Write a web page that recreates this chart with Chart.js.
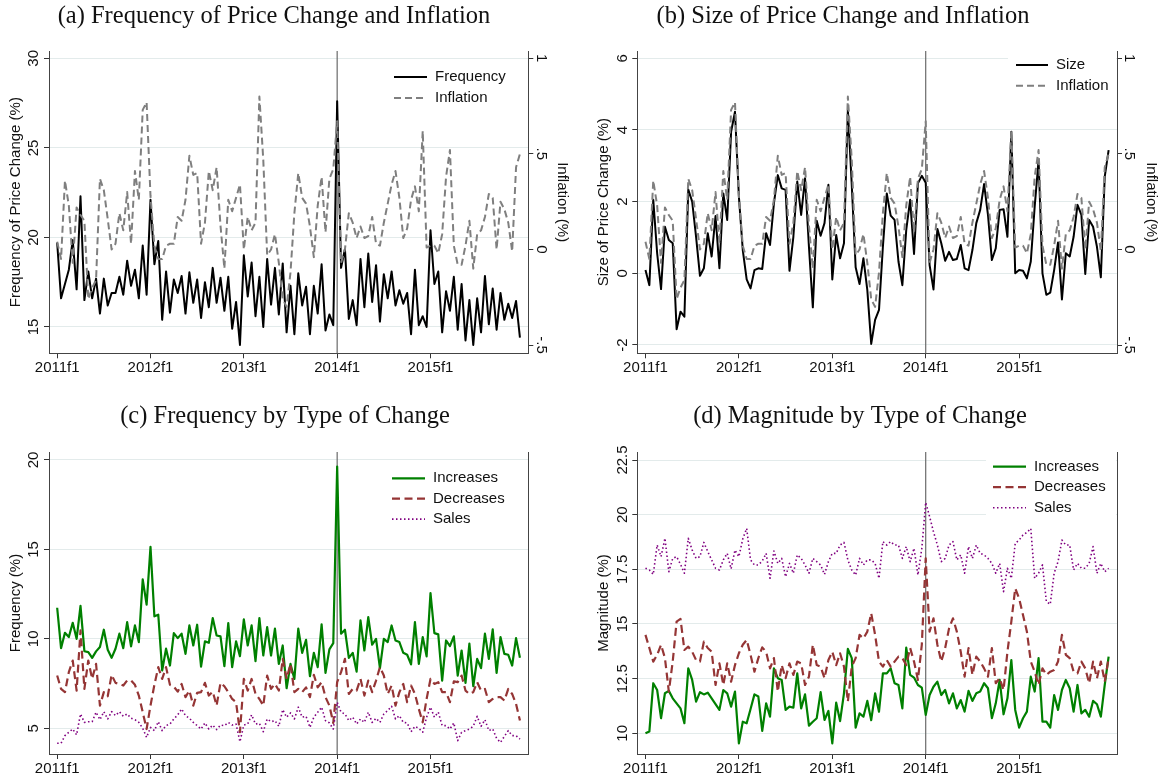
<!DOCTYPE html>
<html><head><meta charset="utf-8">
<script src="https://cdn.jsdelivr.net/npm/chart.js@4.4.1/dist/chart.umd.min.js"></script>
<style>
html,body{margin:0;padding:0;background:#fff;}
#wrap{position:relative;width:1159px;height:782px;background:#fff;}
canvas{position:absolute;left:0;top:0;}
</style></head><body>
<div id="wrap">
<canvas id="ca" width="1159" height="782"></canvas>
<canvas id="cb" width="1159" height="782"></canvas>
<canvas id="cc" width="1159" height="782"></canvas>
<canvas id="cd" width="1159" height="782"></canvas>
</div>
<script>
// ---------- categories ----------
const years = [2011, 2012, 2013, 2014, 2015];
const periodsPerYear = 24;
const periods = years.flatMap(y => Array.from({length: periodsPerYear}, (_, k) => y + 'f' + (k + 1)));
const xTickPeriods = ['2011f1', '2012f1', '2013f1', '2014f1', '2015f1'];
const breakPeriod = '2014f1';

// ---------- series ----------
const frequency = [19.7,16.6,17.4,18.2,19.85,17.1,22.3,16.5,18.1,16.6,17.7,15.75,17.7,16.2,16.9,16.9,17.8,16.8,18.7,17.3,18.2,16.6,19.55,16.8,22.1,18.5,19.8,15.4,18.1,15.8,17.65,16.9,17.85,15.75,18.05,16.35,17.65,15.5,17.5,16.1,18.3,16.35,17.75,15.9,17.8,14.9,16.4,14.0,19.0,16.7,18.6,15.6,17.8,15.0,18.8,16.25,18.3,15.7,18.55,14.7,
  17.3,14.6,18.0,16.2,17.25,14.6,17.3,15.75,18.5,14.8,15.7,15.1,27.6,18.3,19.35,15.45,16.5,15.1,18.8,16.1,19.1,16.4,18.45,15.3,17.95,16.6,18.1,16.2,17.05,16.3,16.9,14.6,18.2,15.1,15.6,15.0,20.4,17.4,18.1,14.7,17.0,15.9,17.8,14.85,17.4,14.25,16.5,14.0,16.6,14.7,17.85,15.15,17.15,14.85,16.9,15.4,16.3,15.5,16.45,14.4];
const inflation = [0.04,-0.05,0.36,0.23,-0.07,0.22,0.18,0.15,-0.26,-0.2,-0.16,0.37,0.31,0.16,0.0,0.03,0.19,0.10,0.30,0.03,0.41,0.26,0.73,0.77,0.28,0.02,-0.05,-0.05,0.02,0.03,0.03,0.17,0.15,0.26,0.49,0.39,0.40,0.03,0.14,0.41,0.31,0.43,0.125,-0.1,0.26,0.2,0.27,0.34,0.0,0.17,0.10,0.14,0.80,0.47,-0.03,0.0,0.08,-0.07,-0.26,-0.3,
  -0.12,0.19,0.40,0.27,0.24,0.12,-0.04,0.23,0.38,0.09,0.37,0.42,0.67,-0.07,0.0,0.19,0.14,0.06,0.12,0.06,0.07,0.17,0.03,0.02,0.14,0.24,0.34,0.41,0.27,0.06,0.11,0.26,0.33,0.2,0.62,0.01,0.02,0.02,-0.02,0.08,0.38,0.52,0.02,-0.08,-0.08,0.02,0.15,-0.1,0.08,0.1,0.17,0.29,0.27,0.0,0.25,0.21,0.14,-0.01,0.43,0.5];
const sizeChange = [0.09,-0.33,2.05,0.56,-0.44,1.3,0.93,0.84,-1.56,-1.07,-1.21,2.34,2.0,1.02,-0.07,0.14,1.12,0.47,1.6,0.14,2.23,1.49,3.95,4.51,2.14,0.65,-0.17,-0.42,0.09,0.14,0.12,1.12,0.79,1.95,2.74,2.37,2.33,0.07,1.02,2.56,1.63,2.65,0.74,-0.95,1.47,1.05,1.4,2.47,-0.17,1.07,0.42,0.84,4.56,2.47,0.17,-0.3,0.42,-0.47,-1.97,-1.3,
  -1.02,0.74,2.23,1.61,1.49,0.33,-0.33,1.21,2.05,0.54,2.51,2.72,2.53,0.23,-0.45,1.24,0.84,0.35,0.6,0.37,0.4,0.79,0.14,0.09,0.65,1.4,1.77,2.49,1.63,0.37,0.7,1.77,1.79,1.02,3.95,0.0,0.09,0.07,-0.14,0.33,1.86,3.16,0.0,-0.6,-0.54,0.09,0.86,-0.73,0.56,0.47,1.02,1.91,1.63,-0.02,1.49,1.3,0.74,-0.11,2.7,3.44];
const incFreq = [11.74,9.48,10.34,10.1,10.9,10.0,11.84,9.31,9.26,8.94,9.3,9.54,10.51,9.39,8.94,9.45,10.29,9.48,10.94,9.58,10.75,9.82,13.33,11.91,15.14,11.26,11.35,8.23,9.45,8.51,10.32,10.04,10.29,9.16,10.75,9.63,10.79,8.45,9.86,9.78,11.16,10.19,10.14,8.47,10.88,8.42,9.86,9.03,11.09,9.63,10.75,8.75,11.16,9.07,10.66,9.07,10.57,8.6,9.63,7.24,
  8.6,7.76,10.57,9.22,9.95,7.91,9.22,8.42,10.81,8.1,9.41,9.76,19.63,10.29,10.51,8.94,9.22,8.17,11.03,9.35,11.22,9.67,10.0,8.36,10.0,9.82,10.75,9.91,9.82,9.22,9.11,8.57,10.94,8.6,10.1,9.02,12.56,10.32,10.25,7.67,9.91,9.6,10.14,7.95,9.35,7.54,9.73,7.35,8.88,8.36,10.29,8.88,10.53,8.1,10.1,9.16,9.11,8.51,10.04,8.94];
const decFreq = [7.95,7.2,7.02,8.14,8.79,7.11,10.47,7.2,8.79,7.76,8.6,6.27,7.02,6.79,7.99,7.54,7.48,7.39,7.67,7.67,7.43,6.83,5.9,4.96,6.27,7.43,8.42,7.76,8.42,7.43,7.33,7.05,7.48,6.74,7.11,6.27,6.98,7.02,7.54,6.83,7.05,6.27,7.54,7.35,7.02,6.64,6.46,4.78,7.76,7.11,7.76,6.92,6.64,6.27,7.95,7.2,7.48,7.11,8.88,7.76,
  8.6,7.02,7.2,7.02,7.29,6.74,7.99,7.29,7.58,6.74,6.27,5.3,7.58,8.14,8.88,6.92,7.2,7.11,7.76,6.83,7.67,7.02,7.67,8.42,7.95,6.92,7.39,6.27,7.02,7.48,6.46,7.39,6.92,6.08,5.33,6.64,7.76,7.48,7.58,7.02,7.02,6.46,7.62,7.58,7.95,7.11,6.92,7.02,7.58,7.11,7.2,6.46,6.64,6.74,6.74,6.55,7.2,6.92,6.36,5.43];
const salesFreq = [4.16,4.16,4.59,4.78,4.96,4.63,5.8,5.33,5.37,5.37,5.9,5.48,5.93,5.52,5.93,5.71,5.93,5.67,5.8,5.56,5.48,5.33,5.0,4.49,5.05,4.87,5.37,4.87,5.15,5.24,5.52,5.75,6.08,5.71,5.56,5.33,5.15,4.96,5.3,4.96,5.18,4.93,5.18,5.15,5.33,5.18,5.24,4.25,5.18,5.24,5.75,5.24,5.28,4.81,5.52,5.37,5.43,5.11,6.04,5.62,
  5.86,5.52,6.18,5.62,5.67,5.05,5.62,5.9,6.18,5.43,5.3,4.96,6.46,5.9,5.8,5.43,5.62,5.24,5.52,5.33,5.9,5.33,5.56,5.33,5.8,5.99,6.23,5.52,5.71,5.33,5.3,4.81,5.11,5.0,4.78,5.62,6.18,5.62,5.9,5.15,5.15,4.96,5.3,4.31,4.78,4.87,4.96,5.11,5.67,5.11,5.48,4.87,4.96,4.44,4.21,4.55,4.87,4.59,4.59,4.4];
const incMag = [10.0,10.08,12.29,11.98,10.69,11.83,11.94,11.6,11.37,11.14,10.46,12.97,12.44,11.45,11.88,11.78,11.86,11.6,11.33,11.07,11.98,11.83,11.22,11.91,9.54,10.53,10.46,11.11,11.78,11.68,10.11,11.37,10.76,12.97,12.52,12.44,11.07,11.22,11.17,12.74,11.14,11.78,10.35,10.53,10.69,11.88,10.61,11.02,9.54,11.4,10.56,11.83,13.86,13.44,10.26,10.91,10.76,11.48,10.6,11.83,
  10.99,12.74,12.74,12.97,12.29,12.21,11.14,13.92,12.67,12.55,12.21,12.09,10.84,11.75,12.13,12.36,11.75,11.98,11.37,11.83,11.14,11.52,10.99,11.94,11.48,11.83,11.91,12.29,12.06,10.69,11.37,12.44,10.87,11.6,13.35,11.07,10.26,10.69,10.99,12.59,11.91,13.44,10.53,10.53,10.26,11.75,11.07,11.98,12.44,12.06,10.99,12.21,10.91,11.07,10.76,11.48,11.33,10.76,12.21,13.51];
const decMag = [14.5,13.9,13.28,13.59,14.05,13.44,11.91,13.28,15.11,15.23,13.81,13.96,13.73,13.35,13.28,14.19,13.9,13.73,12.21,13.2,12.21,13.2,12.36,13.12,13.66,14.05,14.27,13.59,12.82,13.44,13.93,13.73,12.97,13.44,11.91,13.12,12.52,13.2,12.67,13.28,13.2,12.21,12.59,14.05,13.12,13.05,12.52,13.35,13.73,13.12,13.66,13.05,11.45,13.05,13.44,14.5,14.34,14.65,15.49,14.5,
  13.28,13.05,13.35,13.05,13.28,13.51,13.44,13.12,13.9,13.28,12.44,14.05,18.0,14.65,15.26,14.05,13.28,13.9,14.8,15.26,14.65,13.73,12.59,13.9,12.67,13.51,13.28,12.97,12.59,13.9,12.29,12.52,11.98,13.73,15.11,16.63,16.17,15.41,14.65,13.28,12.82,12.21,12.97,12.67,12.82,12.9,13.28,14.5,13.59,13.44,12.82,12.74,13.28,12.97,12.29,13.28,12.52,13.28,12.36,13.44];
const salesMag = [17.55,17.47,17.27,18.61,18.08,18.92,17.39,18.0,18.08,17.73,17.32,18.92,18.38,18.0,18.08,18.73,18.31,17.93,17.55,17.47,17.93,18.23,17.52,18.38,18.08,18.89,19.37,17.93,17.7,17.7,17.88,18.23,17.09,18.34,17.77,18.0,17.16,17.77,17.32,18.16,18.0,17.7,17.32,18.0,17.85,17.7,17.27,17.85,18.23,18.23,18.61,18.73,17.93,17.47,17.24,18.0,17.7,17.93,17.93,17.77,
  17.09,18.77,18.61,18.77,18.61,18.61,18.0,18.54,17.85,18.46,17.24,18.46,20.56,19.91,19.22,18.61,17.85,18.0,18.61,18.77,17.93,18.16,17.32,18.54,18.0,18.61,18.23,18.16,18.0,17.77,17.32,17.77,16.48,17.55,17.09,18.69,18.84,19.07,19.19,19.37,17.09,17.32,17.7,16.02,15.9,17.32,17.85,18.84,18.61,18.61,17.47,17.77,17.55,17.55,17.77,18.54,17.32,17.77,17.39,17.55];

// ---------- tick values ----------
const freqTicks = [15, 20, 25, 30];
const inflTicks = [-0.5, 0, 0.5, 1];
const sizeTicks = [-2, 0, 2, 4, 6];
const typeFreqTicks = [5, 10, 15, 20];
const magTicks = [10, 12.5, 15, 17.5, 20, 22.5];

// ---------- helpers ----------
const W = 1159, H = 782, AXW = 10, XAH = 20;
const SANS = '"Liberation Sans", Arial, Helvetica, sans-serif';
const SERIF = '"Liberation Serif", "Times New Roman", serif';
const TXT = '#111';
const pts = arr => arr.map((v, i) => ({x: i, y: v}));
const stataFmt = v => {
  let s = String(v);
  if (s.startsWith('0.')) s = s.slice(1);
  else if (s.startsWith('-0.')) s = '-' + s.slice(2);
  return s;
};

const decor = {
  id: 'decor',
  beforeDatasetsDraw(chart, args, o) {
    const {ctx, chartArea: a, scales} = chart;
    const x = scales.x.getPixelForValue(periods.indexOf(breakPeriod));
    ctx.save();
    ctx.strokeStyle = '#6a6a6a'; ctx.lineWidth = 1.2;
    ctx.beginPath(); ctx.moveTo(x, a.top); ctx.lineTo(x, a.bottom); ctx.stroke();
    ctx.restore();
  },
  afterDraw(chart, args, o) {
    const {ctx, chartArea: a} = chart;
    ctx.save();
    ctx.fillStyle = TXT;
    ctx.font = '15px ' + SANS;
    ctx.textAlign = 'center';
    ctx.textBaseline = 'alphabetic';
    const midY = (a.top + a.bottom) / 2;
    // left axis labels + title
    const sy = chart.scales.y;
    sy.ticks.forEach(t => {
      const py = sy.getPixelForValue(t.value);
      ctx.save(); ctx.translate(a.left - 10.6, py); ctx.rotate(-Math.PI / 2);
      ctx.fillText(stataFmt(t.value), 0, 0); ctx.restore();
    });
    ctx.save(); ctx.translate(a.left - 29, midY); ctx.rotate(-Math.PI / 2);
    ctx.fillText(o.leftTitle, 0, 0); ctx.restore();
    // right axis labels + title
    if (o.rightTitle) {
      const s2 = chart.scales.y2;
      s2.ticks.forEach(t => {
        const py = s2.getPixelForValue(t.value);
        ctx.save(); ctx.translate(a.right + 8.3, py); ctx.rotate(Math.PI / 2);
        ctx.fillText(stataFmt(t.value), 0, 0); ctx.restore();
      });
      ctx.save(); ctx.translate(a.right + 29.5, midY); ctx.rotate(Math.PI / 2);
      ctx.fillText(o.rightTitle, 0, 0); ctx.restore();
    }
    // title
    ctx.font = '24.5px ' + SERIF;
    ctx.textBaseline = 'middle';
    ctx.fillText(o.title, o.titleX, o.titleY);
    // legend
    const L = o.legend;
    ctx.fillStyle = '#fff';
    ctx.fillRect(L.box[0], L.box[1], L.box[2], L.box[3]);
    chart.data.datasets.forEach((ds, k) => {
      const y = L.y + k * L.dy;
      ctx.save();
      ctx.strokeStyle = ds.borderColor; ctx.lineWidth = ds.borderWidth;
      ctx.setLineDash(ds.borderDash || []);
      ctx.beginPath(); ctx.moveTo(L.x, y); ctx.lineTo(L.x + L.w, y); ctx.stroke();
      ctx.restore();
      ctx.fillStyle = TXT; ctx.font = '15px ' + SANS;
      ctx.textAlign = 'left'; ctx.textBaseline = 'middle';
      ctx.fillText(ds.label, L.x + L.w + 8, y);
    });
    ctx.restore();
  }
};

function yScale(pos, min, max, ticks, gridOn, tickMarks) {
  return {
    type: 'linear', position: pos, min, max,
    afterBuildTicks: s => { s.ticks = ticks.map(v => ({value: v})); },
    afterFit: s => { s.width = AXW; },
    ticks: {display: false},
    grid: {display: true, drawOnChartArea: gridOn, color: '#e3ebeb', lineWidth: 1,
           drawTicks: tickMarks, tickLength: 5, tickColor: '#333', tickWidth: 1},
    border: {display: true, color: '#444', width: 1}
  };
}

function makeChart(id, area, datasets, y, y2, deco) {
  return new Chart(document.getElementById(id), {
    type: 'line',
    data: {datasets},
    options: {
      responsive: false, animation: false, devicePixelRatio: 1, events: [],
      layout: {padding: {left: area.left - AXW, right: W - area.right - AXW, top: area.top, bottom: H - area.bottom - XAH}},
      elements: {point: {radius: 0}, line: {tension: 0, borderJoinStyle: 'round', borderCapStyle: 'butt', fill: false}},
      plugins: {legend: {display: false}, tooltip: {enabled: false}, title: {display: false}, decor: deco},
      scales: {
        x: {
          type: 'linear', min: -2.1, max: 121.15,
          afterBuildTicks: s => { s.ticks = xTickPeriods.map(p => ({value: periods.indexOf(p)})); },
          afterFit: s => { s.height = XAH; },
          ticks: {callback: v => periods[v], font: {family: SANS, size: 15}, color: TXT, padding: 1, maxRotation: 0, minRotation: 0, autoSkip: false},
          grid: {display: true, drawOnChartArea: false, drawTicks: true, tickLength: 5, tickColor: '#333', tickWidth: 1},
          border: {display: true, color: '#444', width: 1}
        },
        y, y2
      }
    },
    plugins: [decor]
  });
}

const BLACK = '#000', GRAY = '#7f7f7f', GREEN = '#008000', MAROON = '#953535', PURPLE = '#800080';

makeChart('ca', {left: 49, right: 528.3, top: 51, bottom: 353.3}, [
  {label: 'Frequency', data: pts(frequency), yAxisID: 'y', borderColor: BLACK, borderWidth: 2, order: 1},
  {label: 'Inflation', data: pts(inflation), yAxisID: 'y2', borderColor: GRAY, borderWidth: 2, borderDash: [7, 4], order: 0}
], yScale('left', 13.53, 30.41, freqTicks, true, true), yScale('right', -0.543, 1.038, inflTicks, false, true),
{title: '(a) Frequency of Price Change and Inflation', titleX: 274, titleY: 17,
 leftTitle: 'Frequency of Price Change (%)', rightTitle: 'Inflation (%)',
 legend: {x: 394, w: 33, y: 77, dy: 21, box: [385, 65, 142, 44]}});

makeChart('cb', {left: 637.3, right: 1117, top: 51, bottom: 353.3}, [
  {label: 'Size', data: pts(sizeChange), yAxisID: 'y', borderColor: BLACK, borderWidth: 2, order: 1},
  {label: 'Inflation', data: pts(inflation), yAxisID: 'y2', borderColor: GRAY, borderWidth: 2, borderDash: [7, 4], order: 0}
], yScale('left', -2.232, 6.204, sizeTicks, true, true), yScale('right', -0.543, 1.038, inflTicks, false, true),
{title: '(b) Size of Price Change and Inflation', titleX: 843, titleY: 17,
 leftTitle: 'Size of Price Change (%)', rightTitle: 'Inflation (%)',
 legend: {x: 1016, w: 32, y: 65, dy: 20.7, box: [1008, 54, 108, 42]}});

makeChart('cc', {left: 49, right: 528.3, top: 452, bottom: 754}, [
  {label: 'Increases', data: pts(incFreq), yAxisID: 'y', borderColor: GREEN, borderWidth: 2.2, order: 2},
  {label: 'Decreases', data: pts(decFreq), yAxisID: 'y', borderColor: MAROON, borderWidth: 2.2, borderDash: [8, 4.5], order: 1},
  {label: 'Sales', data: pts(salesFreq), yAxisID: 'y', borderColor: PURPLE, borderWidth: 1.6, borderDash: [1.5, 2.5], order: 0}
], yScale('left', 3.563, 20.447, typeFreqTicks, true, true), yScale('right', 3.563, 20.447, typeFreqTicks, false, false),
{title: '(c) Frequency by Type of Change', titleX: 285, titleY: 417,
 leftTitle: 'Frequency (%)', rightTitle: null,
 legend: {x: 392, w: 33, y: 478.3, dy: 20.4, box: [383, 466, 144, 64]}});

makeChart('cd', {left: 637.3, right: 1117, top: 452, bottom: 754}, [
  {label: 'Increases', data: pts(incMag), yAxisID: 'y', borderColor: GREEN, borderWidth: 2.2, order: 2},
  {label: 'Decreases', data: pts(decMag), yAxisID: 'y', borderColor: MAROON, borderWidth: 2.2, borderDash: [8, 4.5], order: 1},
  {label: 'Sales', data: pts(salesMag), yAxisID: 'y', borderColor: PURPLE, borderWidth: 1.6, borderDash: [1.5, 2.5], order: 0}
], yScale('left', 9.053, 22.866, magTicks, true, true), yScale('right', 9.053, 22.866, magTicks, false, false),
{title: '(d) Magnitude by Type of Change', titleX: 860, titleY: 417,
 leftTitle: 'Magnitude (%)', rightTitle: null,
 legend: {x: 993, w: 33, y: 466.7, dy: 20.5, box: [986, 453, 130, 65]}});
</script>
</body></html>
